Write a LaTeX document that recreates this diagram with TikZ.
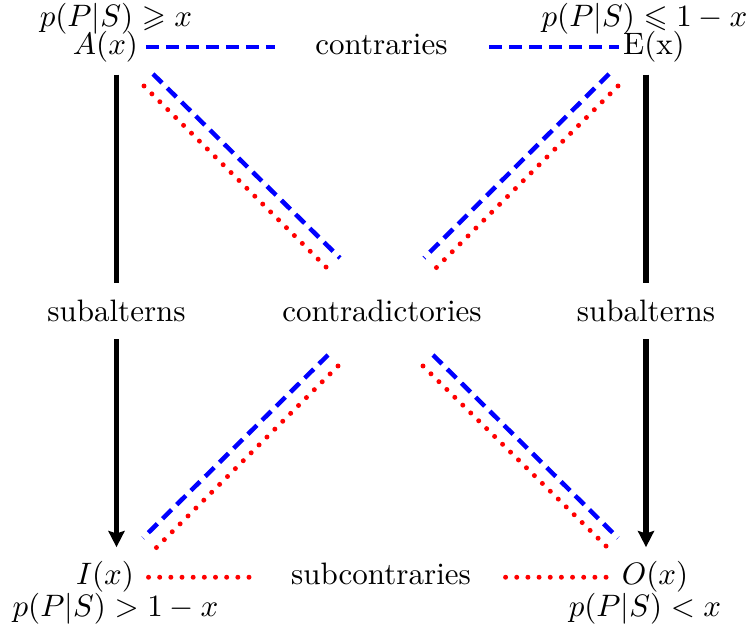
\documentclass[tikz,border=0pt]{standalone}
\usepackage{amssymb}
\usetikzlibrary{arrows.meta}
\begin{document}
\begin{tikzpicture}[x=0.3225pt,y=-0.3225pt,
  txt/.style={inner sep=0pt, anchor=base},
  bluedash/.style={draw=blue, line width=1.45pt, dash pattern=on 4.1pt off 2.35pt},
  reddot/.style={draw=red, line width=1.6pt, line cap=round, dash pattern=on 0pt off 3.6pt},
  blackline/.style={draw=black, line width=1.7pt},
  blackarrow/.style={blackline, -{Stealth[length=5.2pt,width=5.2pt,inset=0.8pt]}}]
\useasboundingbox (0,0) rectangle (751,630);

% corner nodes
\node[txt] (A)  at (105.5,55) {$A(x)$};
\node[txt] (pA) at (116,27) {$p(P|S)\geqslant x$};
\node[txt] (E)  at (654,55) {E(x)};
\node[txt] (pE) at (644.5,27) {$p(P|S)\leqslant 1-x$};
\node[txt] (I)  at (105,585) {$I(x)$};
\node[txt] (pI) at (115.5,617) {$p(P|S)>1-x$};
\node[txt] (O)  at (655,585) {$O(x)$};
\node[txt] (pO) at (645,617) {$p(P|S)<x$};

% relation labels
\node[txt] (contr) at (381.5,55) {contraries};
\node[txt] (subc)  at (381,585) {subcontraries};
\node[txt] (cd)    at (382,322) {contradictories};
\node[txt] (subL)  at (116.5,322) {subalterns};
\node[txt] (subR)  at (646,322) {subalterns};

% contraries
\draw[bluedash, shorten <=2.3pt, shorten >=12.9pt] (A.east) -- (A.east -| contr.west);
\draw[bluedash, shorten <=13.2pt, shorten >=1pt] (E.west -| contr.east) -- (E.west);

% subcontraries
\draw[reddot, shorten <=4.5pt, shorten >=10.3pt] (I.east) -- (I.east -| subc.west);
\draw[reddot, shorten <=11pt, shorten >=2.6pt] (O.west -| subc.east) -- (O.west);

% subalterns
\draw[blackline, shorten <=3.6pt, shorten >=5.3pt] (subL.north |- A.south) -- (subL.north);
\draw[blackarrow, shorten <=5.2pt, shorten >=4.5pt] (subL.south) -- (subL.south |- I.north);
\draw[blackline, shorten <=3.6pt, shorten >=5.3pt] (subR.north |- E.south) -- (subR.north);
\draw[blackarrow, shorten <=5.2pt, shorten >=4.5pt] (subR.south) -- (subR.south |- O.north);

% contradictories (diagonals)
\coordinate (b1s) at (153,74);  \coordinate (b1e) at (340,258);
\coordinate (r1s) at (144,86);  \coordinate (r1e) at (327,268);
\coordinate (b2s) at (609,74);  \coordinate (b2e) at (424,258);
\coordinate (r2s) at (618,86);  \coordinate (r2e) at (436,268);
\coordinate (b3s) at (328,355); \coordinate (b3e) at (143,538);
\coordinate (r3s) at (338,366); \coordinate (r3e) at (156,548);
\coordinate (b4s) at (433,355); \coordinate (b4e) at (618,538);
\coordinate (r4s) at (423,366); \coordinate (r4e) at (608,548);

\draw[bluedash] (b1s) -- (b1e);
\draw[reddot]   (r1s) -- (r1e);
\draw[bluedash] (b2s) -- (b2e);
\draw[reddot]   (r2s) -- (r2e);
\draw[bluedash] (b3s) -- (b3e);
\draw[reddot]   (r3s) -- (r3e);
\draw[bluedash] (b4s) -- (b4e);
\draw[reddot]   (r4s) -- (r4e);
\end{tikzpicture}
\end{document}
